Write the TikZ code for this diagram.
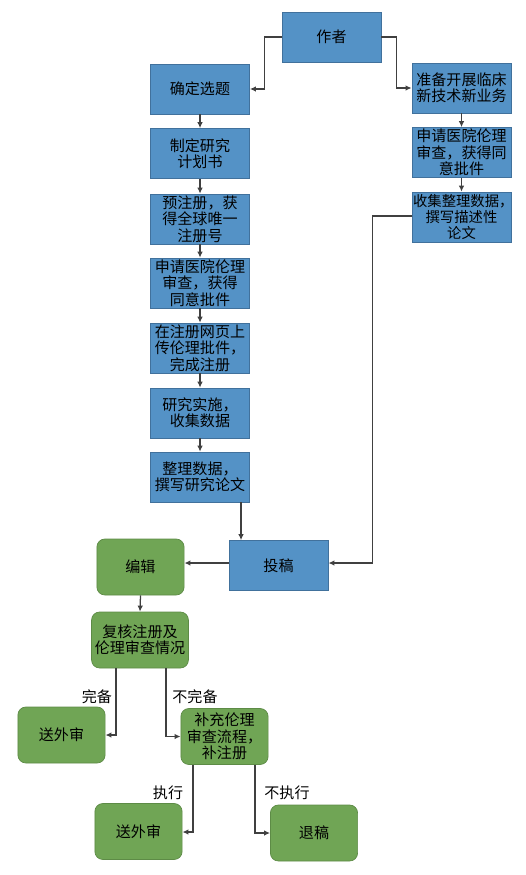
\documentclass[tikz,border=0pt]{standalone}
\usepackage{fontspec}
\setmainfont{Noto Sans CJK SC}
\usepackage{xcolor}
\usetikzlibrary{arrows.meta,positioning,calc}

\definecolor{boxblue}{HTML}{5492C6}
\definecolor{lineblue}{HTML}{41719C}
\definecolor{boxgreen}{HTML}{70A555}
\definecolor{linegreen}{HTML}{5D8B46}

\begin{document}
\begin{tikzpicture}[x=0.25mm, y=-0.25mm,
    font=\fontsize{10.7pt}{11.6pt}\selectfont,
    bluebox/.style={fill=boxblue, draw=lineblue, line width=0.5pt,
      minimum width=24.8mm, minimum height=12.5mm, inner sep=0.3mm,
      align=center, text width=24.2mm},
    greenbox/.style={fill=boxgreen, draw=linegreen, line width=0.5pt,
      rounded corners=2mm, minimum width=21.8mm, minimum height=14mm,
      inner sep=0.3mm, align=center, text width=21.2mm},
    conn/.style={draw=black!75, line width=0.9pt,
      -{Latex[length=1.5mm, width=1.4mm]}},
    lbl/.style={inner sep=0.5pt}]
  % page size
  \useasboundingbox (0,0) rectangle (526,875);

  % Author at the top
  \node[bluebox] (author) at (331.5,37) {作者};

  % Left column: research route
  \node[bluebox] (topic) at (200,89) {确定选题};
  \node[bluebox] (plan) at (200,153.5) {制定研究\\计划书};
  \node[bluebox] (prereg) at (200,219) {预注册，获\\得全球唯一\\注册号};
  \node[bluebox] (ethicsL) at (200,283) {申请医院伦理\\审查，获得\\同意批件};
  \node[bluebox] (upload) at (200,348) {在注册网页上\\传伦理批件，\\完成注册};
  \node[bluebox] (conduct) at (200,413) {研究实施，\\收集数据};
  \node[bluebox] (writeL) at (200,477) {整理数据，\\撰写研究论文};

  % Right column: new technique route
  \node[bluebox] (newtech) at (461.5,88) {准备开展临床\\新技术新业务};
  \node[bluebox] (ethicsR) at (461.5,152.5) {申请医院伦理\\审查，获得同\\意批件};
  \node[bluebox, font=\fontsize{10.2pt}{11.4pt}\selectfont] (writeR) at (461.5,217) {收集整理数据，\\撰写描述性\\论文};

  % Submission and editorial office
  \node[bluebox] (submit) at (278.5,565.5) {投稿};
  \node[greenbox] (editor) at (140.5,567) {编辑};
  \node[greenbox, minimum width=24mm, text width=23.6mm] (check) at (140,640) {复核注册及\\伦理审查情况};
  \node[greenbox] (reviewA) at (61.5,735) {送外审};
  \node[greenbox] (supply) at (224.5,736.5) {补充伦理\\审查流程，\\补注册};
  \node[greenbox] (reviewB) at (138.5,831.5) {送外审};
  \node[greenbox] (reject) at (314,833) {退稿};

  % Author splits into two routes
  \draw[conn] (author.west) -| ++(-17,0) |- (topic.east);
  \draw[conn] (author.east) -| ++(15,0) |- (newtech.west);
  % Left column chain
  \foreach \a/\b in {topic/plan, plan/prereg, prereg/ethicsL, ethicsL/upload,
                     upload/conduct, conduct/writeL}
    \draw[conn] (\a.south) -- (\b.north);
  % Right column chain
  \foreach \a/\b in {newtech/ethicsR, ethicsR/writeR}
    \draw[conn] (\a.south) -- (\b.north);

  % Both routes lead to submission
  \draw[conn] ($(writeL.south)+(41,0)$) -- ($(submit.north)+(-37.5,0)$);
  \draw[conn] ($(writeR.west)+(0,-1)$) -| ++(-39,0) |- ($(submit.east)+(0,-2.5)$);
  \draw[conn] ($(submit.west)+(0,-2.5)$) -- ($(editor.east)+(0,-4)$);
  \draw[conn] (editor.south) -- (check.north);

  % Check outcomes
  \draw[conn] ($(check.south)+(-24,0)$) |- (reviewA.east);
  \draw[conn] ($(check.south)+(26,0)$) |- (supply.west);
  \node[lbl] (lblok) at (97,697) {完备};
  \node[lbl] (lblno) at (195,697) {不完备};

  % Supplement outcomes
  \draw[conn] ($(supply.south)+(-31.5,0)$) |- ($(reviewB.east)+(0,0.5)$);
  \draw[conn] ($(supply.south)+(30.5,0)$) |- (reject.west);
  \node[lbl] (lbldo) at (168,793) {执行};
  \node[lbl] (lbldont) at (287,793) {不执行};
\end{tikzpicture}
\end{document}
